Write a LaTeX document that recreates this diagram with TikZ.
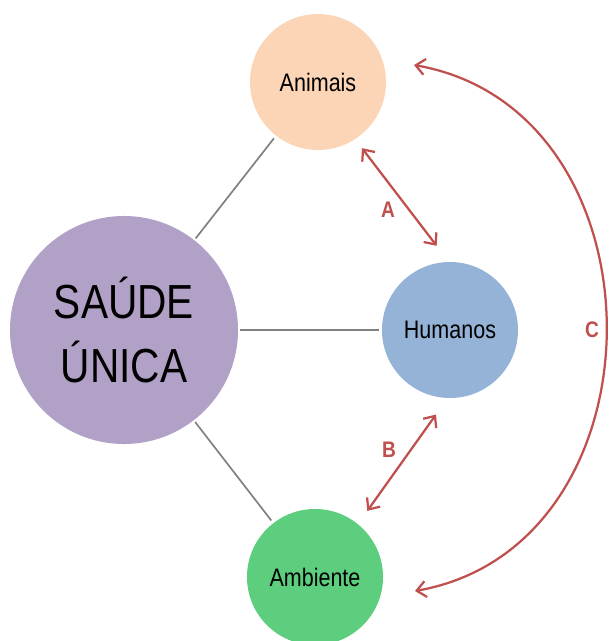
\documentclass[tikz,border=0pt]{standalone}
\usepackage{fontspec}
\setmainfont{Liberation Sans}[FakeStretch=0.85]
\usepackage{xcolor}
\usepackage{tikz}
\usetikzlibrary{arrows.meta}

\definecolor{animaisfill}{RGB}{251,213,181}
\definecolor{humanosfill}{RGB}{149,179,215}
\definecolor{ambientefill}{RGB}{92,206,126}
\definecolor{saudefill}{RGB}{178,161,199}
\definecolor{linkgray}{RGB}{128,128,128}
\definecolor{relred}{RGB}{192,80,77}

\begin{document}
\begin{tikzpicture}[
  x=0.025cm, y=-0.025cm,
  sphere/.style={circle, inner sep=0pt, minimum size=3.4cm, text centered, font=\fontsize{18}{22}\selectfont},
  hub/.style={circle, inner sep=0pt, minimum size=5.7cm, fill=saudefill, font=\fontsize{34}{46}\selectfont},
  link/.style={draw=linkgray, line width=1.2pt, shorten <=0.05cm, shorten >=0.08cm},
  rel/.style={draw=relred, line width=1.6pt, {Straight Barb[length=2.3mm, width=4mm]}-{Straight Barb[length=2.3mm, width=4mm]}},
  lbl/.style={text=relred, font=\bfseries\fontsize{16}{18}\selectfont},
  every node/.style={align=center}
]
\useasboundingbox (0,0) rectangle (608,641);

%% Central node
\node[hub] (saude) at (124,330) {SAÚDE\\ÚNICA};

%% Outer nodes
\node[sphere, fill=animaisfill] (animais) at (318,82) {Animais};
\node[sphere, fill=humanosfill] (humanos) at (450,330) {Humanos};
\node[sphere, fill=ambientefill] (ambiente) at (315,577) {Ambiente};

%% Ends of the long arrow
\coordinate (ctop) at (414,65);
\coordinate (cbot) at (415,591);

%% Labels
\node[lbl] (la) at (388,210) {A};
\node[lbl] (lb) at (389,450) {B};
\node[lbl] (lc) at (592,330) {C};

%% Connections
\draw[link] (saude) -- (animais);
\draw[link] (saude) -- (humanos);
\draw[link] (saude) -- (ambiente);

\draw[rel, shorten <=0.28cm, shorten >=0.5cm] (animais.-57) -- (humanos.91);
\draw[rel, shorten <=0.5cm, shorten >=0.4cm] (humanos.268) -- (ambiente.51);
\draw[rel] (cbot) .. controls (670,546) and (670,110) .. (ctop);

\end{tikzpicture}
\end{document}
